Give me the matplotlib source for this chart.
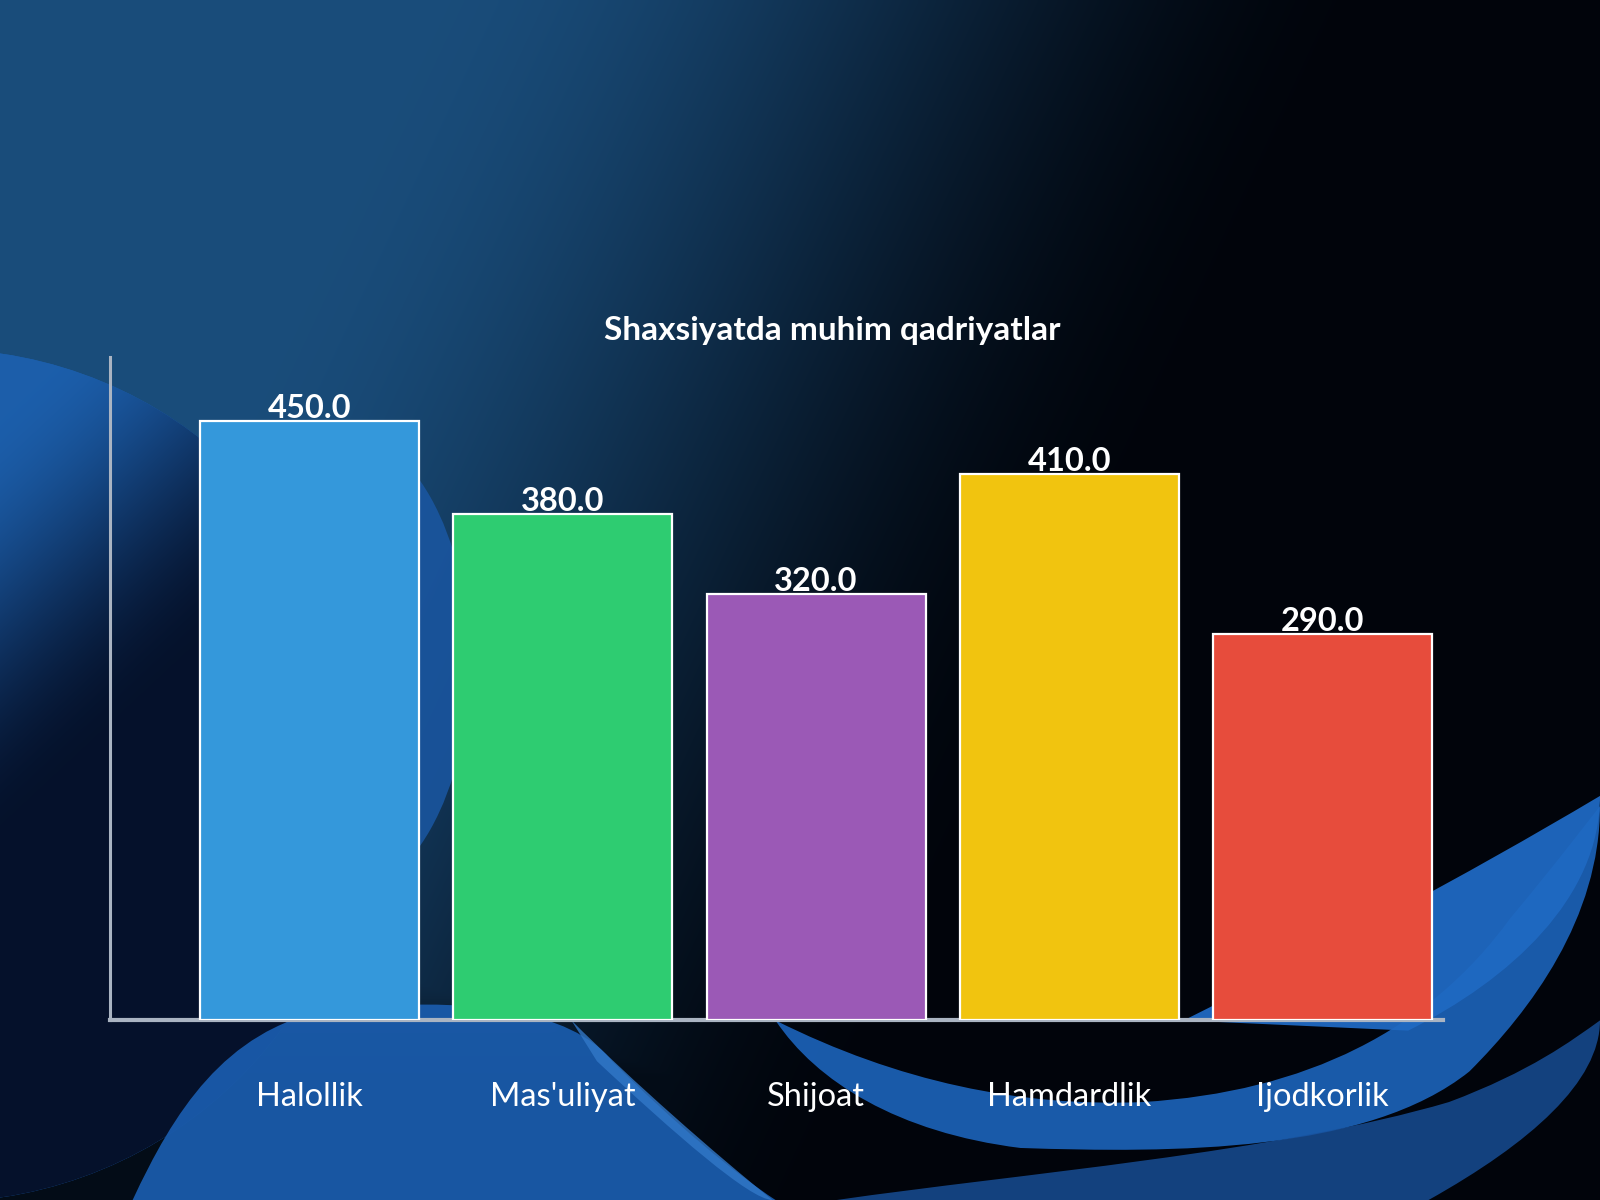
import numpy as np
import matplotlib

matplotlib.use('Agg')
import matplotlib.pyplot as plt
from matplotlib.path import Path
from matplotlib.patches import PathPatch, Ellipse, Circle

plt.rcParams['font.family'] = ['Lato', 'DejaVu Sans']

# ---- data ----
categories = ["Halollik", "Mas'uliyat", "Shijoat", "Hamdardlik", "Ijodkorlik"]
values = [450.0, 380.0, 320.0, 410.0, 290.0]
bar_colors = ['#3498db', '#2ecc71', '#9b59b6', '#f1c40f', '#e74c3c']
title = "Shaxsiyatda muhim qadriyatlar"

W, H = 1568, 1176  # reference pixel frame, used only for the background art

fig = plt.figure(figsize=(16, 12), dpi=100)

# ---- background: dark blue gradient + wave shapes ----
bg = fig.add_axes([0, 0, 1, 1], zorder=0)
bg.set_xlim(0, W)
bg.set_ylim(H, 0)
bg.axis('off')

yy, xx = np.mgrid[0:1:300j, 0:1:400j]
t = np.clip((xx - 0.26 + 0.35 * yy) / 0.6, 0, 1)
t = np.maximum(t, np.clip((yy - 0.7) / 0.2, 0, 1) * 0.8)
t = t * t * (3 - 2 * t)
light = np.array([0.10, 0.30, 0.48])
dark = np.array([0.004, 0.018, 0.045])
img = light * (1 - t[..., None]) + dark * t[..., None]
bg.imshow(img, extent=[0, W, H, 0], aspect='auto', interpolation='bilinear', zorder=0)


def blob(pts, color, alpha=1.0, z=1):
    # pts: start point + groups of 3 bezier points
    verts = [pts[0]]
    codes = [Path.MOVETO]
    for i in range(1, len(pts), 3):
        verts += pts[i:i + 3]
        codes += [Path.CURVE4] * 3
    verts.append(pts[0])
    codes.append(Path.CLOSEPOLY)
    bg.add_patch(PathPatch(Path(verts, codes), fc=color, ec='none', alpha=alpha, zorder=z))


# left ball, lit on its upper rim
ball = Circle((-60, 760), 418, fc='#1c5eab', ec='none', zorder=1)
bg.add_patch(ball)
sy, sx = np.mgrid[346:1176:200j, -60:360:200j]
f = np.clip((sy - 350) / 420 + (sx + 60) / 450 - 0.25, 0, 1)
f = f * f * (3 - 2 * f)
shade = np.array([0.11, 0.37, 0.67]) * (1 - f[..., None]) + np.array([0.02, 0.07, 0.17]) * f[..., None]
im = bg.imshow(shade, extent=[-60, 360, 1176, 346], aspect='auto', interpolation='bilinear', zorder=1)
im.set_clip_path(ball)
bg.add_patch(Ellipse((330, 650), 260, 460, fc='#1a57a3', ec='none', alpha=0.85, zorder=1))

# bottom-left wave under the first labels
blob([(130, 1176), (170, 1090), (220, 1010), (320, 990),
      (460, 975), (560, 990), (600, 1040),
      (660, 1100), (720, 1150), (760, 1176)], '#1a5bab', 0.95, 2)
blob([(560, 1000), (620, 1060), (700, 1130), (757, 1176),
      (735, 1176), (660, 1110), (585, 1040)], '#3278c8', 0.8, 3)

# sweeping band under the right labels
blob([(760, 1000), (880, 1060), (1000, 1085), (1120, 1080),
      (1280, 1070), (1400, 1010), (1480, 900),
      (1530, 840), (1560, 800), (1568, 790),
      (1568, 900), (1500, 990), (1440, 1050),
      (1340, 1130), (1150, 1130), (1000, 1125),
      (880, 1110), (800, 1060), (760, 1000)], '#1c62b8', 0.92, 2)
# right swoosh above the axis
blob([(1160, 1000), (1300, 930), (1430, 862), (1568, 780),
      (1568, 880), (1480, 960), (1380, 1010)], '#1f69c2', 0.95, 2)
# band along the very bottom
blob([(820, 1176), (1000, 1150), (1250, 1130), (1420, 1080),
      (1500, 1050), (1540, 1020), (1568, 1000),
      (1568, 1060), (1500, 1120), (1400, 1176)], '#18519c', 0.8, 2)

# ---- chart ----
left, right = 108 / W, 1414 / W
bottom, top = 1 - 1000 / H, 1 - 350 / H
ax = fig.add_axes([left, bottom, right - left, top - bottom], zorder=5)
ax.patch.set_alpha(0)

x = np.arange(len(categories))
bars = ax.bar(x, values, width=0.865, color=bar_colors, edgecolor='white', linewidth=1.6, zorder=3)

for rect, v in zip(bars, values):
    ax.annotate(f"{v:.1f}", (rect.get_x() + rect.get_width() / 2, rect.get_height()),
                xytext=(0, 2.5), textcoords='offset points', ha='center', va='baseline',
                fontsize=23.5, fontweight='bold', color='white', zorder=4)

ax.set_xlim(-0.787, 4.475)
ax.set_ylim(0, 498)
ax.set_xticks(x)
ax.set_xticklabels(categories, fontsize=23.5, color='white')
ax.tick_params(axis='x', length=0, pad=44)
ax.set_yticks([])

for s in ['top', 'right']:
    ax.spines[s].set_visible(False)
ax.spines['left'].set_color('#aab4c2')
ax.spines['left'].set_linewidth(2.2)
ax.spines['bottom'].set_color('#aab4c2')
ax.spines['bottom'].set_linewidth(3)

fig.text(815.5 / W, 1 - 333 / H, title, ha='center', va='baseline',
         fontsize=24, fontweight='bold', color='white', zorder=6)

fig.savefig('out.png', dpi=100)
